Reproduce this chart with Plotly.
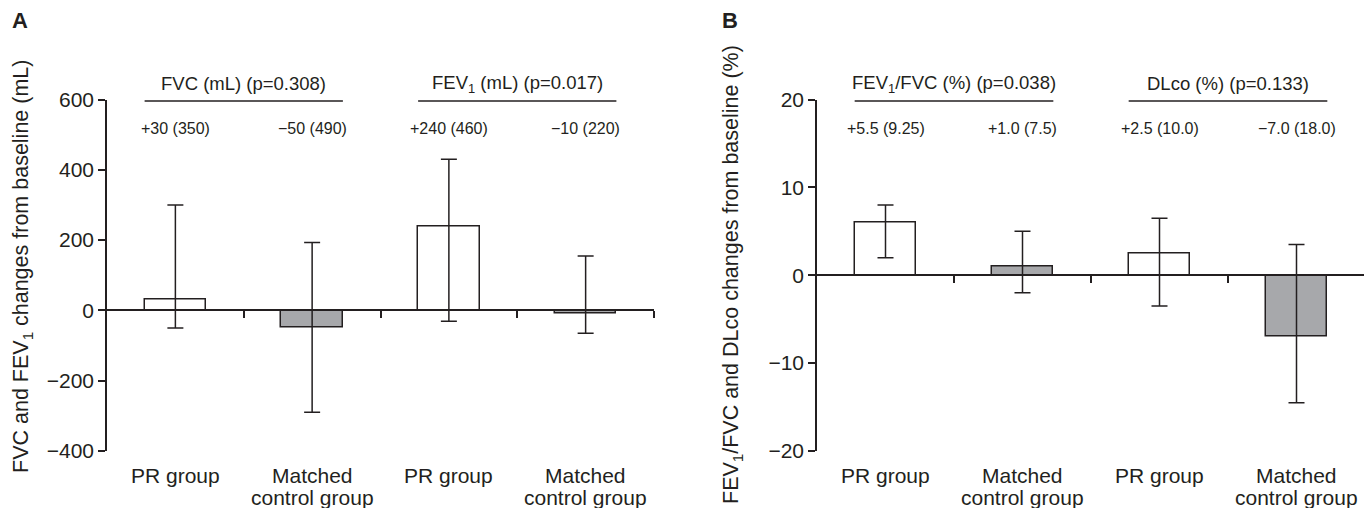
import plotly.graph_objects as go

# ---------------- data ----------------
categories = ["PR group", "Matched<br>control group", "PR group", "Matched<br>control group"]

# Panel A: FVC and FEV1 (mL)
a_values = [30, -50, 240, -10]
a_err_hi = [300, 193, 430, 155]     # upper end of whisker
a_err_lo = [-50, -290, -31, -65]    # lower end of whisker
a_labels = ["+30 (350)", "\u221250 (490)", "+240 (460)", "\u221210 (220)"]
a_headers = ["FVC (mL) (p=0.308)", "FEV<sub>1</sub> (mL) (p=0.017)"]
a_ticks = [-400, -200, 0, 200, 400, 600]

# Panel B: FEV1/FVC and DLco (%)
b_values = [6.0, 1.0, 2.5, -7.0]
b_err_hi = [8.0, 5.0, 6.5, 3.5]
b_err_lo = [2.0, -2.0, -3.5, -14.5]
b_labels = ["+5.5 (9.25)", "+1.0 (7.5)", "+2.5 (10.0)", "\u22127.0 (18.0)"]
b_headers = ["FEV<sub>1</sub>/FVC (%) (p=0.038)", "DLco (%) (p=0.133)"]
b_ticks = [-20, -10, 0, 10, 20]

# ---------------- style ----------------
W, H = 1372, 508
OFF = 8  # page body margin offset in the browser
INK = "#231f20"
GRAY = "#a7a8ab"
FILL = ["white", GRAY, "white", GRAY]
FONT = "Liberation Sans, Arial, Helvetica, sans-serif"
BW = 0.45


def px(sx):
    return (sx - OFF) / W


def py(sy):
    return 1 - (sy - OFF) / H


Y_DOM = [py(451), py(99.5)]
A_DOM = [px(107), px(654)]
B_DOM = [px(817), px(1365)]
A_RANGE = [-400, 600]
B_RANGE = [-20, 20]
xs = list(range(len(categories)))
bounds = [i + 0.5 for i in xs]


def zero_pos(rng):
    return Y_DOM[0] + (0 - rng[0]) / (rng[1] - rng[0]) * (Y_DOM[1] - Y_DOM[0])


fig = go.Figure()


def add_panel(vals, hi, lo, xa, xa_zero, ya):
    fig.add_trace(go.Bar(
        x=xs, y=vals, width=BW, xaxis=xa, yaxis=ya,
        marker=dict(color=FILL, line=dict(color=INK, width=1.5)),
        showlegend=False, hoverinfo="skip",
    ))
    fig.add_trace(go.Scatter(
        x=xs, y=vals, xaxis=xa_zero, yaxis=ya, mode="markers",
        marker=dict(size=1, color="rgba(0,0,0,0)"),
        error_y=dict(type="data", symmetric=False,
                     array=[h - v for h, v in zip(hi, vals)],
                     arrayminus=[v - l for v, l in zip(vals, lo)],
                     color=INK, thickness=1.5, width=8),
        showlegend=False, hoverinfo="skip",
    ))


add_panel(a_values, a_err_hi, a_err_lo, "x", "x3", "y")
add_panel(b_values, b_err_hi, b_err_lo, "x2", "x4", "y2")

cat_axis = dict(range=[-0.5, 3.5], showline=False, ticks="", tickvals=xs,
                showticklabels=False, showgrid=False, zeroline=False, automargin=False)
zero_axis = dict(range=[-0.5, 3.5], showline=True, linecolor=INK, linewidth=1.5,
                 ticks="outside", ticklen=7, tickwidth=1.5, tickcolor=INK,
                 tickvals=bounds, showticklabels=False, showgrid=False, zeroline=False,
                 anchor="free", automargin=False)
val_axis = dict(showline=True, linecolor=INK, linewidth=1.5, ticks="outside", ticklen=7,
                tickwidth=1.5, tickcolor=INK, showgrid=False, zeroline=False,
                tickfont=dict(size=21, color=INK, family=FONT), domain=Y_DOM,
                automargin=False)

fig.update_layout(
    width=W, height=H, autosize=False,
    margin=dict(l=0, r=0, t=0, b=0, pad=0, autoexpand=False),
    paper_bgcolor="white", plot_bgcolor="rgba(0,0,0,0)",
    font=dict(family=FONT, color=INK),
    bargap=0,
    xaxis=dict(cat_axis, domain=A_DOM, anchor="y"),
    xaxis2=dict(cat_axis, domain=B_DOM, anchor="y2"),
    xaxis3=dict(zero_axis, domain=A_DOM, overlaying="x", position=zero_pos(A_RANGE)),
    xaxis4=dict(zero_axis, domain=B_DOM, overlaying="x2", position=zero_pos(B_RANGE)),
    yaxis=dict(val_axis, range=A_RANGE, tickvals=a_ticks, anchor="x"),
    yaxis2=dict(val_axis, range=B_RANGE, tickvals=b_ticks, anchor="x2"),
)

ann = []
shapes = []
for xref, headers, labels in (("x", a_headers, a_labels), ("x2", b_headers, b_labels)):
    for g, head in enumerate(headers):
        left, right = 2 * g, 2 * g + 1
        ann.append(dict(x=(left + right) / 2, y=py(84), xref=xref, yref="paper",
                        text=head, showarrow=False, font=dict(size=18.5, color=INK),
                        xanchor="center", yanchor="middle"))
        shapes.append(dict(type="line", xref=xref, yref="paper",
                           x0=left - BW / 2, x1=right + BW / 2,
                           y0=py(101), y1=py(101),
                           line=dict(color=INK, width=1.5)))
    for i, lab in enumerate(labels):
        ann.append(dict(x=xs[i], y=py(128), xref=xref, yref="paper", text=lab,
                        showarrow=False, font=dict(size=16, color=INK),
                        xanchor="center", yanchor="middle"))
    # category labels (one annotation per line for tight line spacing)
    for i, cat in enumerate(categories):
        for j, line in enumerate(cat.split("<br>")):
            ann.append(dict(x=xs[i], y=py(475 + 22 * j), xref=xref, yref="paper", text=line,
                            showarrow=False, font=dict(size=21, color=INK),
                            xanchor="center", yanchor="middle"))

# panel letters
ann.append(dict(x=px(19.5), y=py(21), xref="paper", yref="paper", text="<b>A</b>",
                showarrow=False, font=dict(size=22, color=INK), xanchor="center", yanchor="middle"))
ann.append(dict(x=px(730), y=py(21), xref="paper", yref="paper", text="<b>B</b>",
                showarrow=False, font=dict(size=22, color=INK), xanchor="center", yanchor="middle"))
# axis titles
ann.append(dict(x=px(22), y=py(267), xref="paper", yref="paper", textangle=-90,
                text="FVC and FEV<sub>1</sub> changes from baseline (mL)",
                showarrow=False, font=dict(size=21.5, color=INK), xanchor="center", yanchor="middle"))
ann.append(dict(x=px(732), y=py(275), xref="paper", yref="paper", textangle=-90,
                text="FEV<sub>1</sub>/FVC and DLco changes from baseline (%)",
                showarrow=False, font=dict(size=21.5, color=INK), xanchor="center", yanchor="middle"))

fig.update_layout(annotations=ann, shapes=shapes)
fig.write_html("out.html")
